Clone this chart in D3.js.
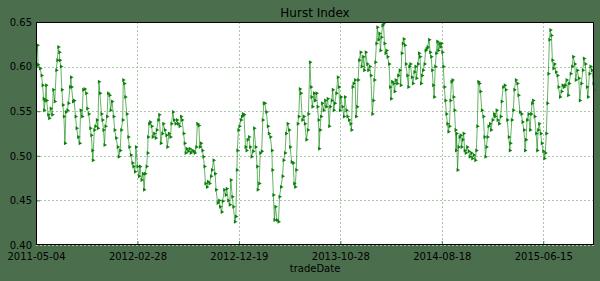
<!DOCTYPE html>
<html lang="en">
<head>
<meta charset="UTF-8">
<title>Hurst Index</title>
<style>
body { margin: 0; background: #4b6f4d; }
svg { display: block; font-family: "DejaVu Sans", sans-serif; }
.grid line { stroke: #a9c6a9; stroke-dasharray: 2,2; }
.tick-label { font-size: 10px; fill: #000; }
</style>
</head>
<body>
<script src="https://d3js.org/d3.v7.min.js"></script>
<script>
// trading-day index (0 = 2011-05-04) and the Hurst value
var idx = [
  0,3,4,8,11,13,15,16,18,20, 21,24,26,29,32,34,37,40,42,44,
  46,47,49,51,53,55,57,59,62,64, 67,69,70,73,75,78,80,83,86,88,
  91,93,96,99,101,104,107,109,111,112, 115,117,120,122,124,126,129,131,133,135,
  137,140,142,145,147,150,153,155,158,161, 163,166,168,171,172,174,176,179,182,184,
  187,190,192,195,197,200,203,205,208,211, 213,215,218,220,221,223,225,228,230,233,
  236,238,241,243,246,249,251,254,257,259, 262,265,267,270,272,275,
  278,280,283,286,288,291,293,295,297,300, 303,305,308,311,313,316,318,321,323,325,
  328,330,332,334,337,339,342,345,347,350, 353,355,358,361,363,366,368,371,374,376,
  379,382,384,387,389,392,394,396,397,399, 401,404,406,408,410,413,415,417,420,422,
  425,428,430,433,436,437,440,442,445,447, 449,451,454,457,459,462,465,466,468,470,
  472,475,478,480,483,486,488,491,493,496, 499,501,504,507,509,511,513,516,518,520,
  522,525,528,530,533,536,537,540,542,543, 545,548,550,
  553,555,557,558,560,562,564,567,570,572, 575,578,580,583,585,587,589,592,595,597,
  599,601,604,607,609,612,614,617,620,622, 624,626,629,631,633,635,637,640,642,645,
  647,650,653,655,658,660,663,665,667,669, 671,673,675,677,679,681,683,685,687,689,
  691,693,696,698,700,702,705,707,709,712, 714,717,719,721,723,725,727,729,732,734,
  736,738,741,743,746,748,750,753,755,757, 759,761,763,766,768,770,772,775,777,779,
  781,783,785,787,789,791,793,795,797,799, 801,803,805,807,809,811,813,815,817,819,
  821,823,825,827,828,
  829,831,833,835,837,839,841,843,845,847, 850,853,855,858,860,863,866,868,870,872,
  874,876,879,882,884,886,888,890,892,895, 897,900,903,905,908,910,913,916,918,921,
  924,926,929,932,934,935,938,941,943,946, 949,951,954,957,959,962,964,966,968,971,
  974,976,978,980,983,986,988,990,992,995, 997,1000,1002,1004,1006,1008,1010,1012,1014,1016,
  1018,1020,1022,1025,1028,1030,1033,1036,1038,1041, 1043,1046,1049,1051,1054,1057,1059,1062,1064,1067,
  1070,1072,1075,1078,1080,1083,1086,1088,1091,1093, 1096,1099,1100
];
var hurst = [
  .603,.624,.602,.598,.590,.579,.564,.551,.562,.579, .562,.546,.542,.553,.546,.574,.561,.596,.607,.622,
  .616,.607,.600,.574,.557,.544,.514,.549,.551,.559, .577,.588,.577,.561,.562,.544,.531,.521,.514,.551,
  .544,.574,.575,.570,.553,.547,.531,.523,.506,.495, .529,.533,.540,.531,.583,.570,.547,.540,.529,.512,
  .533,.544,.570,.568,.551,.561,.544,.529,.520,.510, .499,.506,.529,.540,.585,.581,.566,.547,.521,.510,
  .501,.492,.488,.482,.510,.488,.477,.488,.473,.480, .462,.480,.488,.503,.521,.536,.538,.533,.521,.525,
  .520,.529,.540,.546,.514,.525,.536,.529,.523,.510, .525,.521,.536,.549,.540,.536,
  .540,.536,.533,.544,.540,.525,.514,.503,.508,.505, .508,.503,.506,.505,.503,.510,.536,.534,.510,.514,
  .506,.499,.488,.469,.465,.471,.469,.477,.484,.495, .480,.462,.447,.450,.443,.437,.449,.462,.456,.463,
  .450,.445,.473,.454,.443,.426,.432,.484,.506,.529, .533,.540,.544,.547,.546,.510,.506,.518,.521,.510,
  .499,.505,.531,.510,.488,.462,.469,.503,.505,.540, .559,.559,.549,.533,.525,.521,.506,.484,.456,.428,
  .443,.428,.426,.454,.465,.477,.495,.503,.525,.536, .529,.510,.493,.492,.469,.465,.484,.536,.544,.575,
  .570,.540,.544,.536,.518,.529,.547,.605,.577,.566, .555,.570,.562,
  .570,.555,.540,.508,.529,.544,.559,.551,.562,.555, .564,.533,.555,.562,.574,.551,.559,.570,.588,.577,
  .551,.566,.555,.544,.566,.551,.544,.540,.536,.529, .577,.581,.585,.544,.555,.585,.607,.616,.600,.611,
  .596,.616,.603,.596,.600,.590,.547,.562,.585,.605, .626,.644,.630,.637,.618,.633,.646,.648,.626,.615,
  .618,.611,.603,.577,.564,.583,.581,.572,.585,.581, .590,.596,.579,.615,.626,.631,.624,.603,.590,.577,
  .600,.603,.588,.581,.594,.600,.587,.603,.615,.611, .581,.590,.596,.603,.618,.620,.622,.630,.616,.611,
  .596,.579,.566,.600,.615,.628,.618,.626,.622,.626, .616,.600,.577,.562,.547,.536,.527,.533,.562,.583,
  .585,.566,.551,.529,.506,
  .525,.484,.510,.521,.523,.510,.518,.525,.506,.503, .510,.505,.499,.503,.497,.501,.495,.506,.533,.583,
  .581,.572,.551,.544,.521,.499,.510,.521,.533,.536, .529,.540,.547,.544,.551,.540,.536,.544,.561,.577,
  .579,.574,.540,.521,.506,.514,.540,.551,.574,.585, .581,.568,.549,.547,.538,.529,.506,.518,.540,.547,
  .529,.547,.559,.562,.544,.525,.506,.529,.536,.525, .514,.505,.497,.503,.525,.559,.592,.630,.641,.635,
  .607,.598,.603,.594,.590,.577,.566,.572,.579,.577, .579,.585,.568,.581,.592,.600,.611,.603,.585,.596,
  .587,.562,.581,.596,.609,.603,.577,.566,.592,.600, .596,.581,.574
];
var xTickIdx = [0, 200, 400, 600, 800, 1000];
var xTickLabels = ["2011-05-04", "2012-02-28", "2012-12-19", "2013-10-28", "2014-08-18", "2015-06-15"];
var yTicks = [0.40, 0.45, 0.50, 0.55, 0.60, 0.65];

var width = 600, height = 281;
var margin = {top: 22, right: 6, bottom: 36, left: 36};
var w = width - margin.left - margin.right,
    h = height - margin.top - margin.bottom;

var data = d3.zip(idx, hurst);

var x = d3.scaleLinear().domain([0, 1100]).range([0, w]);
var y = d3.scaleLinear().domain([0.40, 0.65]).range([h, 0]);

var svg = d3.select("body").append("svg")
    .attr("width", width)
    .attr("height", height);

var g = svg.append("g")
    .attr("transform", "translate(" + margin.left + "," + margin.top + ")");

g.append("rect")
    .attr("width", w).attr("height", h)
    .attr("fill", "#fff");

// dashed grid
var grid = g.append("g").attr("class", "grid");
grid.selectAll(".gx").data(xTickIdx).enter().append("line")
    .attr("x1", function(d) { return Math.round(x(d)) + 0.5; })
    .attr("x2", function(d) { return Math.round(x(d)) + 0.5; })
    .attr("y1", 0).attr("y2", h);
grid.selectAll(".gy").data(yTicks).enter().append("line")
    .attr("y1", function(d) { return Math.round(y(d)) + 0.5; })
    .attr("y2", function(d) { return Math.round(y(d)) + 0.5; })
    .attr("x1", 0).attr("x2", w);

// series
var line = d3.line()
    .x(function(d) { return x(d[0]); })
    .y(function(d) { return y(d[1]); });

g.append("path")
    .datum(data)
    .attr("fill", "none")
    .attr("stroke", "#008000")
    .attr("stroke-opacity", 0.6)
    .attr("stroke-width", 1)
    .attr("d", line);

g.append("g").selectAll("path").data(data).enter().append("path")
    .attr("d", "M-1,-2L2.5,0L-1,2Z")
    .attr("fill", "#0a800a")
    .attr("transform", function(d) { return "translate(" + x(d[0]) + "," + y(d[1]) + ")"; });

// axes with inward ticks
var xAxis = d3.axisBottom(x).tickValues(xTickIdx)
    .tickFormat(function(d, i) { return xTickLabels[i]; })
    .tickSizeInner(-4).tickSizeOuter(0).tickPadding(6);
var yAxis = d3.axisLeft(y).tickValues(yTicks)
    .tickFormat(d3.format(".2f"))
    .tickSizeInner(-4).tickSizeOuter(0).tickPadding(4);

var gx = g.append("g").attr("transform", "translate(0," + h + ")").call(xAxis);
var gy = g.append("g").call(yAxis);
[gx, gy].forEach(function(a) {
  a.select(".domain").remove();
  a.selectAll(".tick line").attr("stroke", "#2e8b2e");
  a.selectAll(".tick text").attr("class", "tick-label")
    .attr("font-family", "DejaVu Sans").attr("font-size", 10).attr("fill", "#000");
});
gy.selectAll(".tick").filter(function(d) { return d === 0.65 || d === 0.40; }).select("line").remove();
gx.selectAll(".tick text").attr("dy", "0.9em");

// frame
g.append("rect")
    .attr("x", 0.5).attr("y", 0.5)
    .attr("width", w - 1).attr("height", h - 1)
    .attr("fill", "none").attr("stroke", "#000").attr("stroke-width", 1);

svg.append("text")
    .attr("x", margin.left + w / 2).attr("y", 17)
    .attr("text-anchor", "middle")
    .attr("font-size", 12)
    .text("Hurst Index");

svg.append("text")
    .attr("x", margin.left + w / 2).attr("y", 272)
    .attr("text-anchor", "middle")
    .attr("font-size", 10)
    .text("tradeDate");
</script>
</body>
</html>
